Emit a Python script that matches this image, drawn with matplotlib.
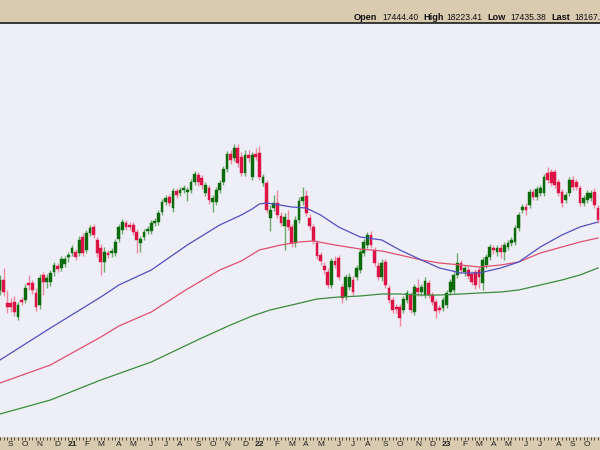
import matplotlib
matplotlib.use('Agg')
import matplotlib.pyplot as plt
import matplotlib.dates as mdates
import numpy as np
import pandas as pd

# ---------------- data (weekly candles) ----------------
dates = pd.date_range('2020-08-17', periods=167, freq='W-MON')

opens = [160,170,147,147,148,133,150,150,167,167,
         157,145,175,168,168,178,184,182,186,193,
         197,198,197,213,200,217,223,210,202,188,
         197,197,197,211,220,227,225,225,218,207,
         213,219,219,227,228,238,248,253,242,259,
         257,260,258,260,268,275,272,257,262,248,
         248,260,268,281,296,292,302,293,277,295,
         273,296,297,267,267,232,242,247,234,224,
         230,223,207,230,249,254,232,223,207,195,
         184,178,165,189,192,163,153,163,170,173,
         180,197,205,215,200,184,173,188,162,150,
         143,143,140,150,155,138,162,158,155,167,
         155,148,142,142,145,158,160,175,187,178,
         180,176,178,180,167,185,193,202,198,202,
         198,203,207,208,222,240,243,245,258,253,
         257,257,277,278,278,268,258,250,257,270,
         268,262,247,250,252,258,242]
highs = [175,182,160,152,154,148,153,166,175,170,
         162,176,178,176,180,188,187,194,194,198,
         205,201,214,217,220,225,226,213,206,203,
         200,202,211,226,231,230,228,228,221,214,
         221,224,230,232,240,251,255,256,262,262,
         263,265,263,271,279,278,275,268,265,255,
         263,270,284,299,300,306,306,298,300,300,
         298,302,304,276,270,245,255,260,238,237,
         240,226,234,253,263,260,236,226,210,198,
         188,182,192,194,195,166,176,177,174,185,
         201,211,218,219,203,188,191,191,165,153,
         146,146,154,160,158,166,171,166,173,170,
         158,151,145,153,160,171,178,197,190,185,
         184,179,181,183,193,196,206,205,205,206,
         208,210,213,225,238,246,247,261,261,264,
         265,276,283,281,281,271,261,258,273,274,
         271,265,255,260,260,262,245]
lows = [155,154,137,138,134,130,145,147,160,156,
        139,141,155,162,164,174,178,179,183,188,
        194,190,194,194,197,214,212,193,175,178,
        192,193,194,208,216,220,220,215,197,198,
        210,216,216,224,225,235,245,244,238,252,
        254,257,249,257,265,264,261,254,246,238,
        245,257,265,278,286,289,283,274,274,288,
        270,290,270,264,237,219,239,232,224,200,
        220,203,203,227,245,234,220,206,191,185,
        176,162,162,182,170,147,150,160,155,170,
        177,194,202,202,184,170,169,162,147,137,
        137,124,137,147,137,135,154,154,152,152,
        145,132,137,139,142,155,157,172,177,174,
        171,165,161,162,160,182,190,196,194,192,
        190,200,204,205,219,237,235,242,250,250,
        254,254,267,264,262,254,243,247,254,260,
        260,244,244,247,249,242,227]
closes = [170,158,143,143,138,145,148,162,165,160,
          143,172,168,172,177,185,181,191,191,195,
          202,193,210,197,217,222,215,197,188,198,
          195,199,208,223,228,223,223,218,210,211,
          218,221,227,229,237,248,252,247,259,255,
          260,262,260,268,276,268,265,265,250,252,
          260,267,281,296,290,302,287,277,295,292,
          295,293,273,273,240,240,247,235,227,233,
          223,207,230,249,253,237,224,209,194,189,
          180,165,189,185,173,152,173,173,158,182,
          198,208,215,205,187,173,187,165,150,140,
          141,132,151,157,140,163,158,163,169,155,
          148,139,140,150,157,168,175,187,180,182,
          174,168,165,173,190,193,203,200,202,198,
          205,207,210,222,235,243,240,258,253,261,
          262,273,270,267,265,257,247,255,270,263,
          263,247,252,257,257,245,230]

# moving averages, sampled at candle indices
ma_blue_idx = [0,14,28,33,42,52,61,67,70,72,74,76,81,85,89,94,100,106,111,117,122,128,133,139,144,150,156,161,166]
ma_blue = [90,122,153,165,180,205,225,235,241,246,247,246,243,242,235,223,213,210,200,190,182,177,177,182,188,203,215,223,228]
ma_red_idx = [0,14,28,33,42,52,61,67,72,78,83,87,93,100,106,111,117,122,128,133,139,144,150,156,161,166]
ma_red = [67,85,113,124,138,161,180,189,200,205,208,209,205,201,199,195,190,187,185,183,185,188,197,203,208,212]
ma_green_idx = [0,14,28,42,56,64,70,75,81,88,94,100,106,111,117,122,128,133,139,144,150,156,161,166]
ma_green = [36,50,70,88,112,125,134,140,145,151,153,154,156,156,155,155,156,157,158,160,165,170,175,182]

header = [("Open", True), ("17444.40", False), ("High", True), ("18223.41", False),
          ("Low", True), ("17435.38", False), ("Last", True), ("18167.", False)]
header_x = [354, 382, 423, 446, 487, 510, 551, 574]

# ---------------- styles ----------------
TAN = '#D9CBB0'
BG = '#EEEEF6'
UP = '#0B6B0B'
DOWN = '#DC1445'
UP_W = '#6FA86F'
DOWN_W = '#EE8AA0'
plt.rcParams['font.family'] = ['Liberation Sans', 'DejaVu Sans']

W, H = 600, 450
fig = plt.figure(figsize=(6, 4.5), dpi=100, facecolor=TAN)
ax = fig.add_axes([0, 13 / H, 1, (437 - 23) / H], facecolor=BG)

x = mdates.date2num(dates.to_pydatetime())
o = np.array(opens, float); c = np.array(closes, float)
hi = np.array(highs, float); lo = np.array(lows, float)
up = c >= o

# wicks
ax.vlines(x[up], lo[up], hi[up], color=UP_W, lw=1.0, zorder=2)
ax.vlines(x[~up], lo[~up], hi[~up], color=DOWN_W, lw=1.0, zorder=2)
# bodies
bw = 5.4
bottom = np.minimum(o, c)
height = np.maximum(np.abs(c - o), 1.0)
ax.bar(x[up], height[up], bottom=bottom[up], width=bw, color=UP, edgecolor=UP, lw=0.3, zorder=3)
ax.bar(x[~up], height[~up], bottom=bottom[~up], width=bw, color=DOWN, edgecolor=DOWN, lw=0.3, zorder=3)

# moving averages
ax.plot(x[ma_green_idx], ma_green, color='#3C8C3C', lw=0.9, zorder=4)
ax.plot(x[ma_red_idx], ma_red, color='#E0506E', lw=0.9, zorder=4)
ax.plot(x[ma_blue_idx], ma_blue, color='#5050C0', lw=0.9, zorder=4)

ax.set_xlim(mdates.date2num(pd.Timestamp('2020-08-18')), mdates.date2num(pd.Timestamp('2023-10-27')))
ax.set_ylim(13, 427)

# month ticks at first weekly candle of each month
major_pos, major_lab, major_bold = [], [], []
for i in range(1, len(dates)):
    if dates[i].month != dates[i - 1].month:
        major_pos.append(x[i])
        if dates[i].month == 1:
            major_lab.append(f"{dates[i].year % 100:02d}")
            major_bold.append(True)
        else:
            major_lab.append('JFMAMJJASOND'[dates[i].month - 1])
            major_bold.append(False)
ax.set_xticks(major_pos)
ax.set_xticklabels(major_lab)
for lab, b in zip(ax.get_xticklabels(), major_bold):
    if b:
        lab.set_fontweight('bold')
        lab.set_fontsize(7)
ax.set_xticks(x, minor=True)
ax.tick_params(axis='x', which='both', direction='out', length=2, width=0.6, color='#333333',
               labelsize=6, pad=1, labelcolor='#222222')
ax.set_yticks([])

for s in ['left', 'right', 'bottom']:
    ax.spines[s].set_visible(False)
ax.spines['top'].set_color('#1a1a1a')
ax.spines['top'].set_linewidth(1.2)

# header text
for (txt, bold), px in zip(header, header_x):
    fig.text(px / W, 1 - 20 / H, txt, fontsize=6.2 if not bold else 6.6,
             fontweight='bold' if bold else 'normal', color='#111111',
             ha='left', va='baseline')

fig.savefig('out.png', dpi=100, facecolor=TAN)
